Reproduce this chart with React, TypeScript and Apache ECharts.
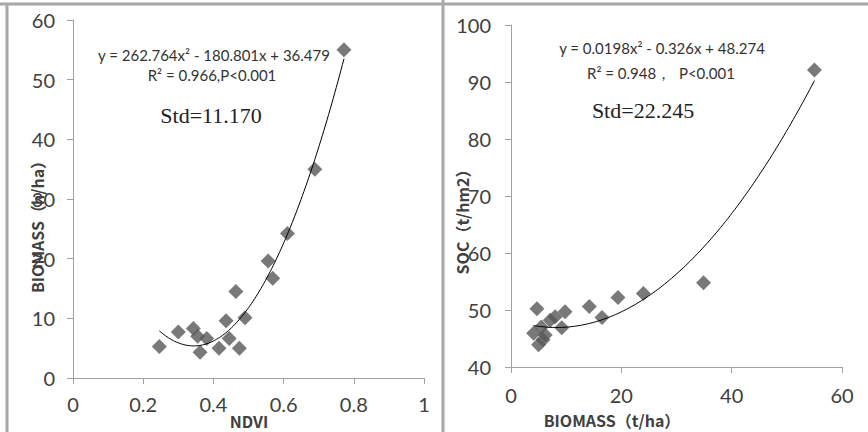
import React, { useEffect, useRef } from "react";
import * as echarts from "echarts";

// Left panel: NDVI vs BIOMASS
const ndviValues = [0.246, 0.300, 0.343, 0.355, 0.362, 0.381, 0.416, 0.436, 0.445, 0.464, 0.474, 0.490, 0.556, 0.569, 0.611, 0.689, 0.772];
const biomassLeft = [5.3, 7.7, 8.3, 7.0, 4.3, 6.6, 5.0, 9.6, 6.6, 14.5, 5.0, 10.1, 19.6, 16.7, 24.2, 35.0, 55.0];
const fitLeft = [262.764, -180.801, 36.479];

// Right panel: BIOMASS vs SOC
const biomassRight = [4.1, 4.7, 5.0, 5.5, 5.8, 6.2, 7.1, 8.0, 9.2, 9.8, 14.2, 16.5, 19.4, 24.0, 34.9, 55.0];
const socValues = [45.9, 50.2, 43.9, 47.0, 44.8, 45.6, 48.2, 48.8, 46.9, 49.7, 50.6, 48.7, 52.2, 52.9, 54.8, 92.1];
const fitRight = [0.0198, -0.326, 48.274];

const eqLeft = ["y = 262.764x² - 180.801x + 36.479", "R² = 0.966,P<0.001", "Std=11.170"];
const eqRight = ["y = 0.0198x² - 0.326x + 48.274", "R² = 0.948，  P<0.001", "Std=22.245"];

function curve(xs: number[], c: number[], steps: number) {
  const lo = Math.min(...xs);
  const hi = Math.max(...xs);
  const out: number[][] = [];
  for (let i = 0; i <= steps; i++) {
    const x = lo + ((hi - lo) * i) / steps;
    out.push([x, c[0] * x * x + c[1] * x + c[2]]);
  }
  return out;
}

const labelColor = "#404040";
const axisColor = "#a0a0a0";

function axisCommon(min: number, max: number, interval: number, margin: number) {
  return {
    type: "value",
    min,
    max,
    interval,
    axisLine: { show: true, lineStyle: { color: axisColor, width: 1 } },
    axisTick: { show: true, length: 6, lineStyle: { color: axisColor } },
    splitLine: { show: false },
    axisLabel: { color: labelColor, fontFamily: "Lato", fontSize: 20, margin },
  };
}

export default function App() {
  const ref = useRef<HTMLDivElement>(null);
  useEffect(() => {
    if (!ref.current) return;
    const chart = echarts.init(ref.current, null, { renderer: "svg" });
    const leftPts = ndviValues.map((x, i) => [x, biomassLeft[i]]);
    const rightPts = biomassRight.map((x, i) => [x, socValues[i]]);
    const eqFont = { fontFamily: "Lato", fontSize: 15, fill: "#333333" };
    const stdFont = { fontFamily: "Liberation Serif", fontSize: 22, fill: "#222" };
    const nameFont = { fontFamily: "Noto Sans CJK SC", fontSize: 16, fontWeight: "bold", fill: labelColor };
    const txt = (text: string, x: number, y: number, st: any, rotation = 0) => ({
      type: "text",
      x,
      y,
      rotation,
      style: { text, textAlign: "center", textVerticalAlign: "middle", ...st },
    });
    const border = (x1: number, y1: number, x2: number, y2: number) => ({
      type: "line",
      shape: { x1, y1, x2, y2 },
      style: { stroke: "#a8a8a8", lineWidth: 3 },
    });
    chart.setOption({
      animation: false,
      backgroundColor: "#ffffff",
      grid: [
        { left: 73, top: 20, width: 351, height: 358 },
        { left: 511, top: 25, width: 331, height: 342 },
      ],
      xAxis: [
        { ...axisCommon(0, 1, 0.2, 16), gridIndex: 0 },
        { ...axisCommon(0, 60, 20, 18), gridIndex: 1 },
      ],
      yAxis: [
        { ...axisCommon(0, 60, 10, 18), gridIndex: 0 },
        { ...axisCommon(40, 100, 10, 20), gridIndex: 1 },
      ],
      series: [
        {
          type: "scatter",
          xAxisIndex: 0,
          yAxisIndex: 0,
          data: leftPts,
          symbol: "diamond",
          symbolSize: 15,
          itemStyle: { color: "#585858" },
        },
        {
          type: "line",
          xAxisIndex: 0,
          yAxisIndex: 0,
          data: curve(ndviValues, fitLeft, 120),
          showSymbol: false,
          lineStyle: { color: "#000", width: 1 },
        },
        {
          type: "scatter",
          xAxisIndex: 1,
          yAxisIndex: 1,
          data: rightPts,
          symbol: "diamond",
          symbolSize: 15,
          itemStyle: { color: "#585858" },
        },
        {
          type: "line",
          xAxisIndex: 1,
          yAxisIndex: 1,
          data: curve(biomassRight, fitRight, 120),
          showSymbol: false,
          lineStyle: { color: "#000", width: 1 },
        },
      ],
      graphic: [
        border(0, 4, 868, 4),
        border(7, 4, 7, 432),
        border(443, 0, 443, 432),
        txt(eqLeft[0], 214, 55, eqFont),
        txt(eqLeft[1], 212, 75, eqFont),
        txt(eqLeft[2], 211, 115, stdFont),
        txt(eqRight[0], 662, 48, eqFont),
        txt(eqRight[1], 661, 73, eqFont),
        txt(eqRight[2], 643, 110, stdFont),
        txt("NDVI", 249, 421, nameFont),
        txt("BIOMASS（h/ha）", 37, 223, nameFont, Math.PI / 2),
        txt("SOC（t/hm2）", 462, 218, nameFont, Math.PI / 2),
        txt("BIOMASS（t/ha）", 612, 420, nameFont),
      ],
    });
    return () => chart.dispose();
  }, []);
  return (
    <div
      ref={ref}
      style={{ position: "fixed", left: 0, top: 0, width: 868, height: 432 }}
    />
  );
}
